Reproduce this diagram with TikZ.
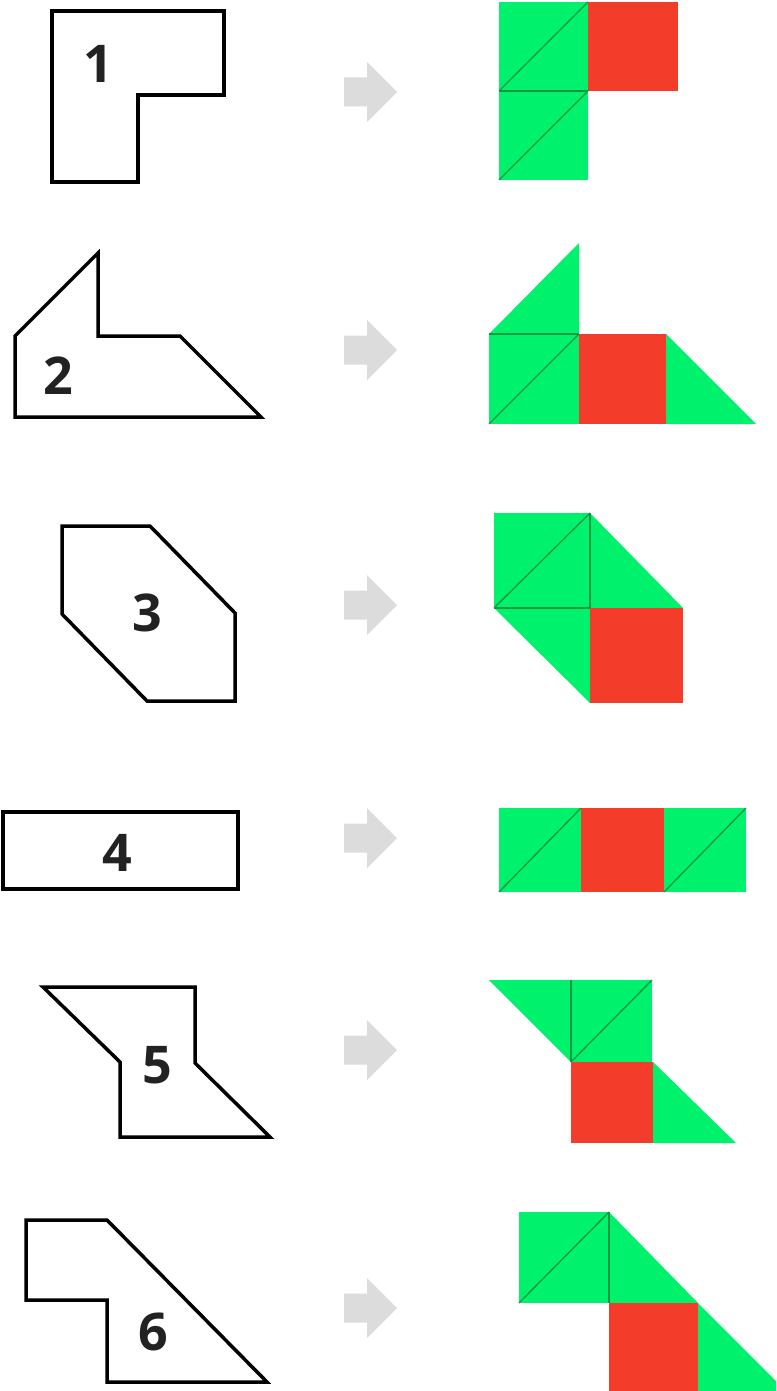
\documentclass[tikz,border=0pt]{standalone}
\usepackage{fontspec}
\setmainfont{Open Sans}
\definecolor{tgreen}{RGB}{0,242,108}
\definecolor{tred}{RGB}{244,60,42}
\definecolor{tline}{RGB}{20,150,65}
\definecolor{agray}{RGB}{220,220,220}
\definecolor{lbl}{RGB}{34,34,34}
\tikzset{
  outline/.style={draw=black,line width=3.5pt,line join=miter},
  gtile/.style={fill=tgreen},
  rtile/.style={fill=tred},
  tl/.style={draw=tline,line width=1.3pt},
  lab/.style={font=\fontsize{52}{52}\selectfont\bfseries,text=lbl,inner sep=0pt},
}
\newcommand\grayarrow[1]{%
  \fill[agray] (344,#1-14.5) -- (367,#1-14.5) -- (367,#1-30) -- (397,#1) -- (367,#1+30) -- (367,#1+14.5) -- (344,#1+14.5) -- cycle;}
\begin{document}
\begin{tikzpicture}[x=1pt,y=-1pt]
\useasboundingbox (0,0) rectangle (776,1391);
\clip (0,0) rectangle (776,1391);
% ---------- 1 ----------
\draw[outline] (52,11) -- (224,11) -- (224,95) -- (138,95) -- (138,182) -- (52,182) -- cycle;
\node[lab] (l1) at (98,64) {1};
\grayarrow{92}
\fill[gtile] (499,2) rectangle (588,180);
\fill[rtile] (588,2) rectangle (678,91);
\draw[tl] (499,91) -- (588,2);
\draw[tl] (499,180) -- (588,91);
\draw[tl] (499,91) -- (588,91);
% ---------- 2 ----------
\draw[outline] (98,253) -- (98,336) -- (180,336) -- (261,417) -- (15,417) -- (15,336) -- cycle;
\node[lab] (l2) at (58,376) {2};
\grayarrow{350}
\fill[gtile] (489,334) -- (579,334) -- (579,243) -- cycle;
\fill[gtile] (489,334) rectangle (579,424);
\fill[rtile] (579,334) rectangle (666,424);
\fill[gtile] (666,334) -- (666,424) -- (756,424) -- cycle;
\draw[tl] (489,334) -- (579,334);
\draw[tl] (489,424) -- (579,334);
% ---------- 3 ----------
\draw[outline] (62,526) -- (150,526) -- (235,613) -- (235,701) -- (147,701) -- (62,614) -- cycle;
\node[lab] (l3) at (147,613) {3};
\grayarrow{605}
\fill[gtile] (494,513) rectangle (590,608);
\fill[gtile] (590,513) -- (590,608) -- (683,608) -- cycle;
\fill[gtile] (494,608) -- (590,608) -- (590,703) -- cycle;
\fill[rtile] (590,608) rectangle (683,703);
\draw[tl] (494,608) -- (590,513);
\draw[tl] (590,513) -- (590,608);
\draw[tl] (494,608) -- (590,608);
% ---------- 4 ----------
\draw[outline] (3,812) rectangle (238,889);
\node[lab] (l4) at (117,853) {4};
\grayarrow{838}
\fill[gtile] (499,808) rectangle (581,892);
\fill[rtile] (581,808) rectangle (664,892);
\fill[gtile] (664,808) rectangle (746,892);
\draw[tl] (499,892) -- (581,808);
\draw[tl] (664,892) -- (746,808);
% ---------- 5 ----------
\draw[outline] (43,987) -- (195,987) -- (195,1063) -- (270,1137) -- (120,1137) -- (120,1062) -- cycle;
\node[lab] (l5) at (157,1065) {5};
\grayarrow{1050}
\fill[gtile] (489,980) -- (571,980) -- (571,1062) -- cycle;
\fill[gtile] (571,980) rectangle (652,1062);
\fill[rtile] (571,1062) rectangle (653,1143);
\fill[gtile] (653,1062) -- (653,1143) -- (736,1143) -- cycle;
\draw[tl] (571,980) -- (571,1062);
\draw[tl] (571,1062) -- (652,980);
% ---------- 6 ----------
\draw[outline] (26,1220) -- (107,1220) -- (267,1382) -- (107,1382) -- (107,1300) -- (26,1300) -- cycle;
\node[lab] (l6) at (153,1332) {6};
\grayarrow{1308}
\fill[gtile] (519,1212) rectangle (609,1303);
\fill[gtile] (609,1212) -- (609,1303) -- (698,1303) -- cycle;
\fill[rtile] (609,1303) rectangle (698,1393);
\fill[gtile] (698,1303) -- (698,1393) -- (788,1393) -- cycle;
\draw[tl] (519,1303) -- (609,1212);
\draw[tl] (609,1212) -- (609,1303);
\end{tikzpicture}
\end{document}
